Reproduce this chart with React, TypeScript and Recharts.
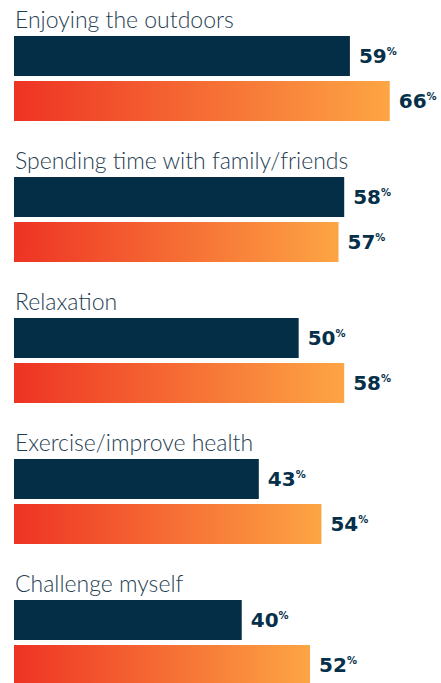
import { BarChart, Bar, XAxis, YAxis, LabelList } from "recharts";

const categories = [
  "Enjoying the outdoors",
  "Spending time with family/friends",
  "Relaxation",
  "Exercise/improve health",
  "Challenge myself",
];
const seriesA = [59, 58, 50, 43, 40];
const seriesB = [66, 57, 58, 54, 52];

const data = categories.map((name, i) => ({
  name,
  a: seriesA[i],
  b: seriesB[i],
}));

function CategoryLabel(props: any) {
  const { x, y, value } = props;
  return (
    <text
      x={x + 1}
      y={y - 8}
      fill="#1f4053"
      fontFamily="Lato"
      fontWeight={300}
      fontSize={23}
    >
      {value}
    </text>
  );
}

function ValueLabel(props: any) {
  const { x, y, width, height, value } = props;
  return (
    <text
      x={x + width + 9}
      y={y + height / 2 + 7}
      fill="#06304a"
      fontFamily="DejaVu Sans"
      fontWeight={700}
      fontSize={20}
    >
      {value}
      <tspan fontSize={10} dy={-8}>
        %
      </tspan>
    </text>
  );
}

// the last bar runs past the bottom of the window, so the page must not scroll
export default function App() {
  return (
    <div>
      <style>{`body { margin: 0; overflow: hidden; }`}</style>
      <BarChart
        layout="vertical"
        width={441}
        height={713}
        data={data}
        margin={{ top: 8, right: 0, bottom: 0, left: 14 }}
        barSize={40}
        barGap={5}
      >
        <defs>
          <linearGradient id="warm" x1="0" y1="0" x2="1" y2="0">
            <stop offset="0%" stopColor="#ee3324" />
            <stop offset="100%" stopColor="#fda544" />
          </linearGradient>
        </defs>
        <XAxis type="number" domain={[0, 75]} hide />
        <YAxis type="category" dataKey="name" hide />
        <Bar dataKey="a" fill="#032e46" isAnimationActive={false}>
          <LabelList dataKey="name" content={CategoryLabel} />
          <LabelList dataKey="a" content={ValueLabel} />
        </Bar>
        <Bar dataKey="b" fill="url(#warm)" isAnimationActive={false}>
          <LabelList dataKey="b" content={ValueLabel} />
        </Bar>
      </BarChart>
    </div>
  );
}
